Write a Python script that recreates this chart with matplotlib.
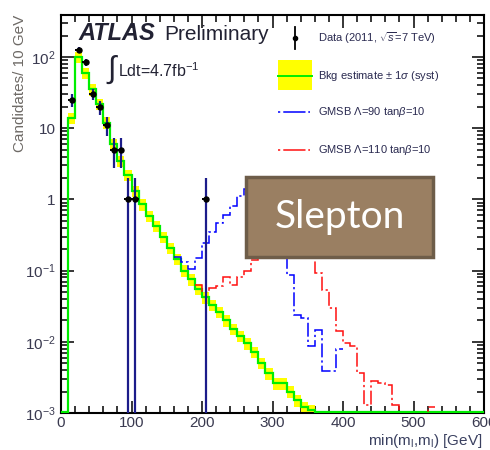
import numpy as np
import matplotlib
matplotlib.use("Agg")
import matplotlib.pyplot as plt
from matplotlib.patches import Rectangle
from matplotlib.lines import Line2D
from matplotlib.ticker import FixedLocator, FixedFormatter, MultipleLocator

plt.rcParams['font.family'] = ['Liberation Sans', 'DejaVu Sans']
plt.rcParams['mathtext.fontset'] = 'custom'
plt.rcParams['mathtext.rm'] = 'Liberation Sans'
plt.rcParams['mathtext.it'] = 'Liberation Sans:italic'
plt.rcParams['mathtext.bf'] = 'Liberation Sans:bold'
plt.rcParams['lines.scale_dashes'] = False

# ---------------- data ----------------
bin_width = 10
# background estimate, bins from 0 to 360 GeV (left edges 0,10,...,350)
bkg_start = 0
bkg_values = [0, 14, 100, 60, 35, 22, 12, 6, 3.5, 2.2,
              1.3, 0.85, 0.58, 0.42, 0.30, 0.21, 0.145, 0.10, 0.075, 0.055,
              0.042, 0.033, 0.026, 0.020, 0.015, 0.012, 0.0095, 0.0072, 0.005, 0.0036,
              0.0026, 0.0026, 0.002, 0.0015, 0.0012, 0.0011]
bkg_syst_frac = 0.18

# data points
data_x = [15, 25, 35, 45, 55, 65, 75, 85, 95, 105, 205]
data_y = [25, 126, 85, 30, 20, 11, 5, 5, 1, 1, 1]

# GMSB Lambda=90, tanb=10 (bins from 160 GeV)
gmsb90_start = 160
gmsb90_values = [0.157, 0.133, 0.105, 0.15, 0.245, 0.35, 0.47, 0.6, 0.8, 1.1,
                 1.4, 1.7, 1.9, 1.6, 1.0, 0.45, 0.087, 0.024, 0.0215, 0.0088,
                 0.0147, 0.0039, 0.0039, 0.0078]

# GMSB Lambda=110, tanb=10 (bins from 190 GeV)
gmsb110_start = 190
gmsb110_values = [0.063, 0.05, 0.057, 0.06, 0.08, 0.063, 0.08, 0.1, 0.14, 0.2,
                  0.28, 0.35, 0.4, 0.42, 0.38, 0.3, 0.22, 0.093, 0.054, 0.03,
                  0.014, 0.0095, 0.0088, 0.0036, 0.0013, 0.0028, 0.0026, 0.0025, 0.0013, 0,
                  0, 0, 0, 0.0012]

x_ticks = [0, 100, 200, 300, 400, 500, 600]
y_ticks = [1e-3, 1e-2, 1e-1, 1, 10, 100]
y_ticklabels = ['$10^{-3}$', '$10^{-2}$', '$10^{-1}$', '1', '10', '$10^{2}$']

legend_labels = ['Data (2011, $\\sqrt{s}$=7 TeV)',
                 'Bkg estimate $\\pm$ 1$\\sigma$ (syst)',
                 'GMSB $\\Lambda$=90 tan$\\beta$=10',
                 'GMSB $\\Lambda$=110 tan$\\beta$=10']

# ---------------- figure ----------------
W, H = 490, 450
fig = plt.figure(figsize=(W / 100, H / 100), dpi=100)

def fx(px):
    return px / W

def fy(py):
    return 1 - py / H

L, R, T, B = 61, 484, 15, 413
ax = fig.add_axes([fx(L), fy(B), (R - L) / W, (B - T) / H])
ax.set_yscale('log')
ymin = 1e-3
ymax = 10 ** ((B - T) / 71.2 - 3)
ax.set_xlim(0, 600)
ax.set_ylim(ymin, ymax)

GREEN = '#00ee00'
YELLOW = '#ffff00'
BLUE = '#0000ff'
RED = '#ff1010'
NAVY = '#1c1c8a'

# background band + line
bkg = np.array(bkg_values, dtype=float)
bkg_edges = bkg_start + bin_width * np.arange(len(bkg) + 1)
nz = np.nonzero(bkg > 0)[0]
i0, i1 = nz[0], nz[-1] + 1
ax.stairs(bkg[i0:i1] * (1 + bkg_syst_frac), bkg_edges[i0:i1 + 1],
          baseline=bkg[i0:i1] * (1 - bkg_syst_frac), fill=True,
          color=YELLOW, linewidth=0, zorder=2)
# full green line across whole x range (zeros sit on the axis floor)
full_edges = np.arange(0, 600 + bin_width, bin_width)
full_bkg = np.zeros(len(full_edges) - 1)
full_bkg[:len(bkg)] = bkg
ax.stairs(np.clip(full_bkg, ymin * 1.045, None), full_edges, baseline=None,
          color=GREEN, linewidth=1.6, zorder=3)

# signal curves
dashdot = (0, (10, 2.2, 1.6, 2.2))
s90 = np.array(gmsb90_values, dtype=float)
e90 = gmsb90_start + bin_width * np.arange(len(s90) + 1)
ax.stairs(np.clip(s90, 1e-5, None), e90, baseline=None, color=BLUE,
          linewidth=1.1, linestyle=dashdot, zorder=4)
s110 = np.array(gmsb110_values, dtype=float)
e110 = gmsb110_start + bin_width * np.arange(len(s110) + 1)
ax.stairs(np.clip(s110, 1e-5, None), e110, baseline=None, color=RED,
          linewidth=1.1, linestyle=dashdot, zorder=4)

# data
dx = np.array(data_x, dtype=float)
dy = np.array(data_y, dtype=float)
err = np.sqrt(dy)
lo = np.clip(dy - err, 1e-5, None)
ax.vlines(dx, lo, dy + err, color=NAVY, linewidth=1.6, zorder=5)
ax.hlines(dy, dx - bin_width / 2, dx + bin_width / 2, color='black', linewidth=1.4, zorder=6)
ax.plot(dx, dy, linestyle='none', marker='o', markersize=3.6, color='black', zorder=7)

# axes style
for s in ax.spines.values():
    s.set_linewidth(1.5)
    s.set_color('black')
    s.set_zorder(2.5)
ax.xaxis.set_major_locator(FixedLocator(x_ticks))
ax.xaxis.set_minor_locator(MultipleLocator(20))
ax.yaxis.set_major_locator(FixedLocator(y_ticks))
ax.yaxis.set_major_formatter(FixedFormatter(y_ticklabels))
ax.yaxis.set_minor_locator(matplotlib.ticker.LogLocator(base=10, subs=np.arange(2, 10), numticks=20))
ax.yaxis.set_minor_formatter(matplotlib.ticker.NullFormatter())
ax.tick_params(which='both', direction='in', top=True, right=True, width=1.1, colors='black')
ax.tick_params(which='major', length=9, labelsize=11, labelcolor='#3a3a50', pad=4)
ax.tick_params(which='minor', length=5)
ax.tick_params(axis='x', which='major', pad=2)

# axis titles
fig.text(fx(482), fy(441), 'min(m$_{\\mathregular{l}}$,m$_{\\mathregular{l}}$) [GeV]',
         ha='right', va='center', fontsize=11, color='#3a4060')
fig.text(fx(20), fy(83), 'Candidates/ 10 GeV', rotation=90, ha='center', va='center',
         fontsize=11, color='#6e6a66')

# ATLAS label
fig.text(fx(78), fy(34), 'ATLAS', fontsize=17, fontweight='bold', style='italic',
         ha='left', va='center', color='#222233')
fig.text(fx(164), fy(34), 'Preliminary', fontsize=15, ha='left', va='center', color='#222233')
fig.text(fx(106), fy(70), '$\\int$', fontsize=22, ha='left', va='center', color='#222233')
fig.text(fx(118), fy(71), 'Ldt=4.7fb$^{-1}$', fontsize=11.5, ha='left', va='center', color='#222233')

# legend (manual)
tx = fx(318)
ly = [38, 76, 112, 150]
fig.add_artist(Line2D([fx(295), fx(295)], [fy(27), fy(49)], color='black', linewidth=1.3))
fig.add_artist(Line2D([fx(295)], [fy(38)], marker='o', markersize=3, color='black'))
fig.add_artist(Rectangle((fx(278), fy(90)), fx(312) - fx(278), fy(60) - fy(90),
                         facecolor=YELLOW, edgecolor='none'))
fig.add_artist(Line2D([fx(278), fx(312)], [fy(76), fy(76)], color=GREEN, linewidth=1.4))
fig.add_artist(Line2D([fx(278), fx(310)], [fy(112), fy(112)], color=BLUE, linewidth=1.1,
                      linestyle=(0, (1.6, 2.2, 16, 2))))
fig.add_artist(Line2D([fx(278), fx(310)], [fy(150), fy(150)], color=RED, linewidth=1.1,
                      linestyle=(0, (1.6, 2.2, 16, 2))))
for y, lab in zip(ly, legend_labels):
    fig.text(tx, fy(y), lab, fontsize=8, ha='left', va='center', color='#2a2a50')

# Slepton overlay box
fig.add_artist(Rectangle((fx(246), fy(257)), fx(433) - fx(246), fy(177) - fy(257),
                         facecolor='#9a7f62', edgecolor='#6e5d49', linewidth=2.5, zorder=10))
fig.text(fx(340), fy(217), 'Slepton', fontsize=28, family=['Lato', 'DejaVu Sans'],
         ha='center', va='center', color='white', zorder=11)

fig.savefig('out.png', dpi=100)
